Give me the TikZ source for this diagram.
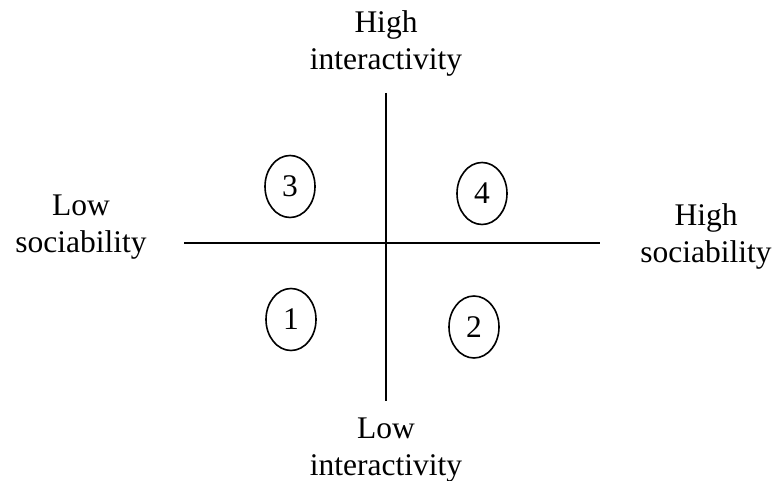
\documentclass[tikz,border=0pt]{standalone}
\usepackage{fontspec}
\setmainfont{Liberation Serif}
\usetikzlibrary{shapes.geometric}
\begin{document}
\begin{tikzpicture}[x=1pt, y=1pt, line width=2pt,
        every node/.style={font=\fontsize{31.5}{37}\selectfont, align=center},
        quadrant/.style={ellipse, draw, line width=1.6pt, inner sep=0pt,
            minimum width=50pt, minimum height=62pt}]
        \useasboundingbox (0,0) rectangle (773,481);
        % axes
        \coordinate (west) at (184,238);
        \coordinate (east) at (600,238);
        \coordinate (north) at (386,388);
        \coordinate (south) at (386,80);
        \draw (west) -- (east);
        \draw (north) -- (south);
        % axis labels
        \node (hiint) at (386,438) {High\\interactivity};
        \node (loint) at (386,31) {Low\\interactivity};
        \node (losoc) at (81,254) {Low\\sociability};
        \node (hisoc) at (706,245) {High\\sociability};
        % quadrants
        \foreach \n/\x/\y in {3/290/294.5, 4/482/287.5, 1/291/161.5, 2/474/154}
            \node[quadrant] (q\n) at (\x,\y) {\n};
    \end{tikzpicture}
\end{document}
